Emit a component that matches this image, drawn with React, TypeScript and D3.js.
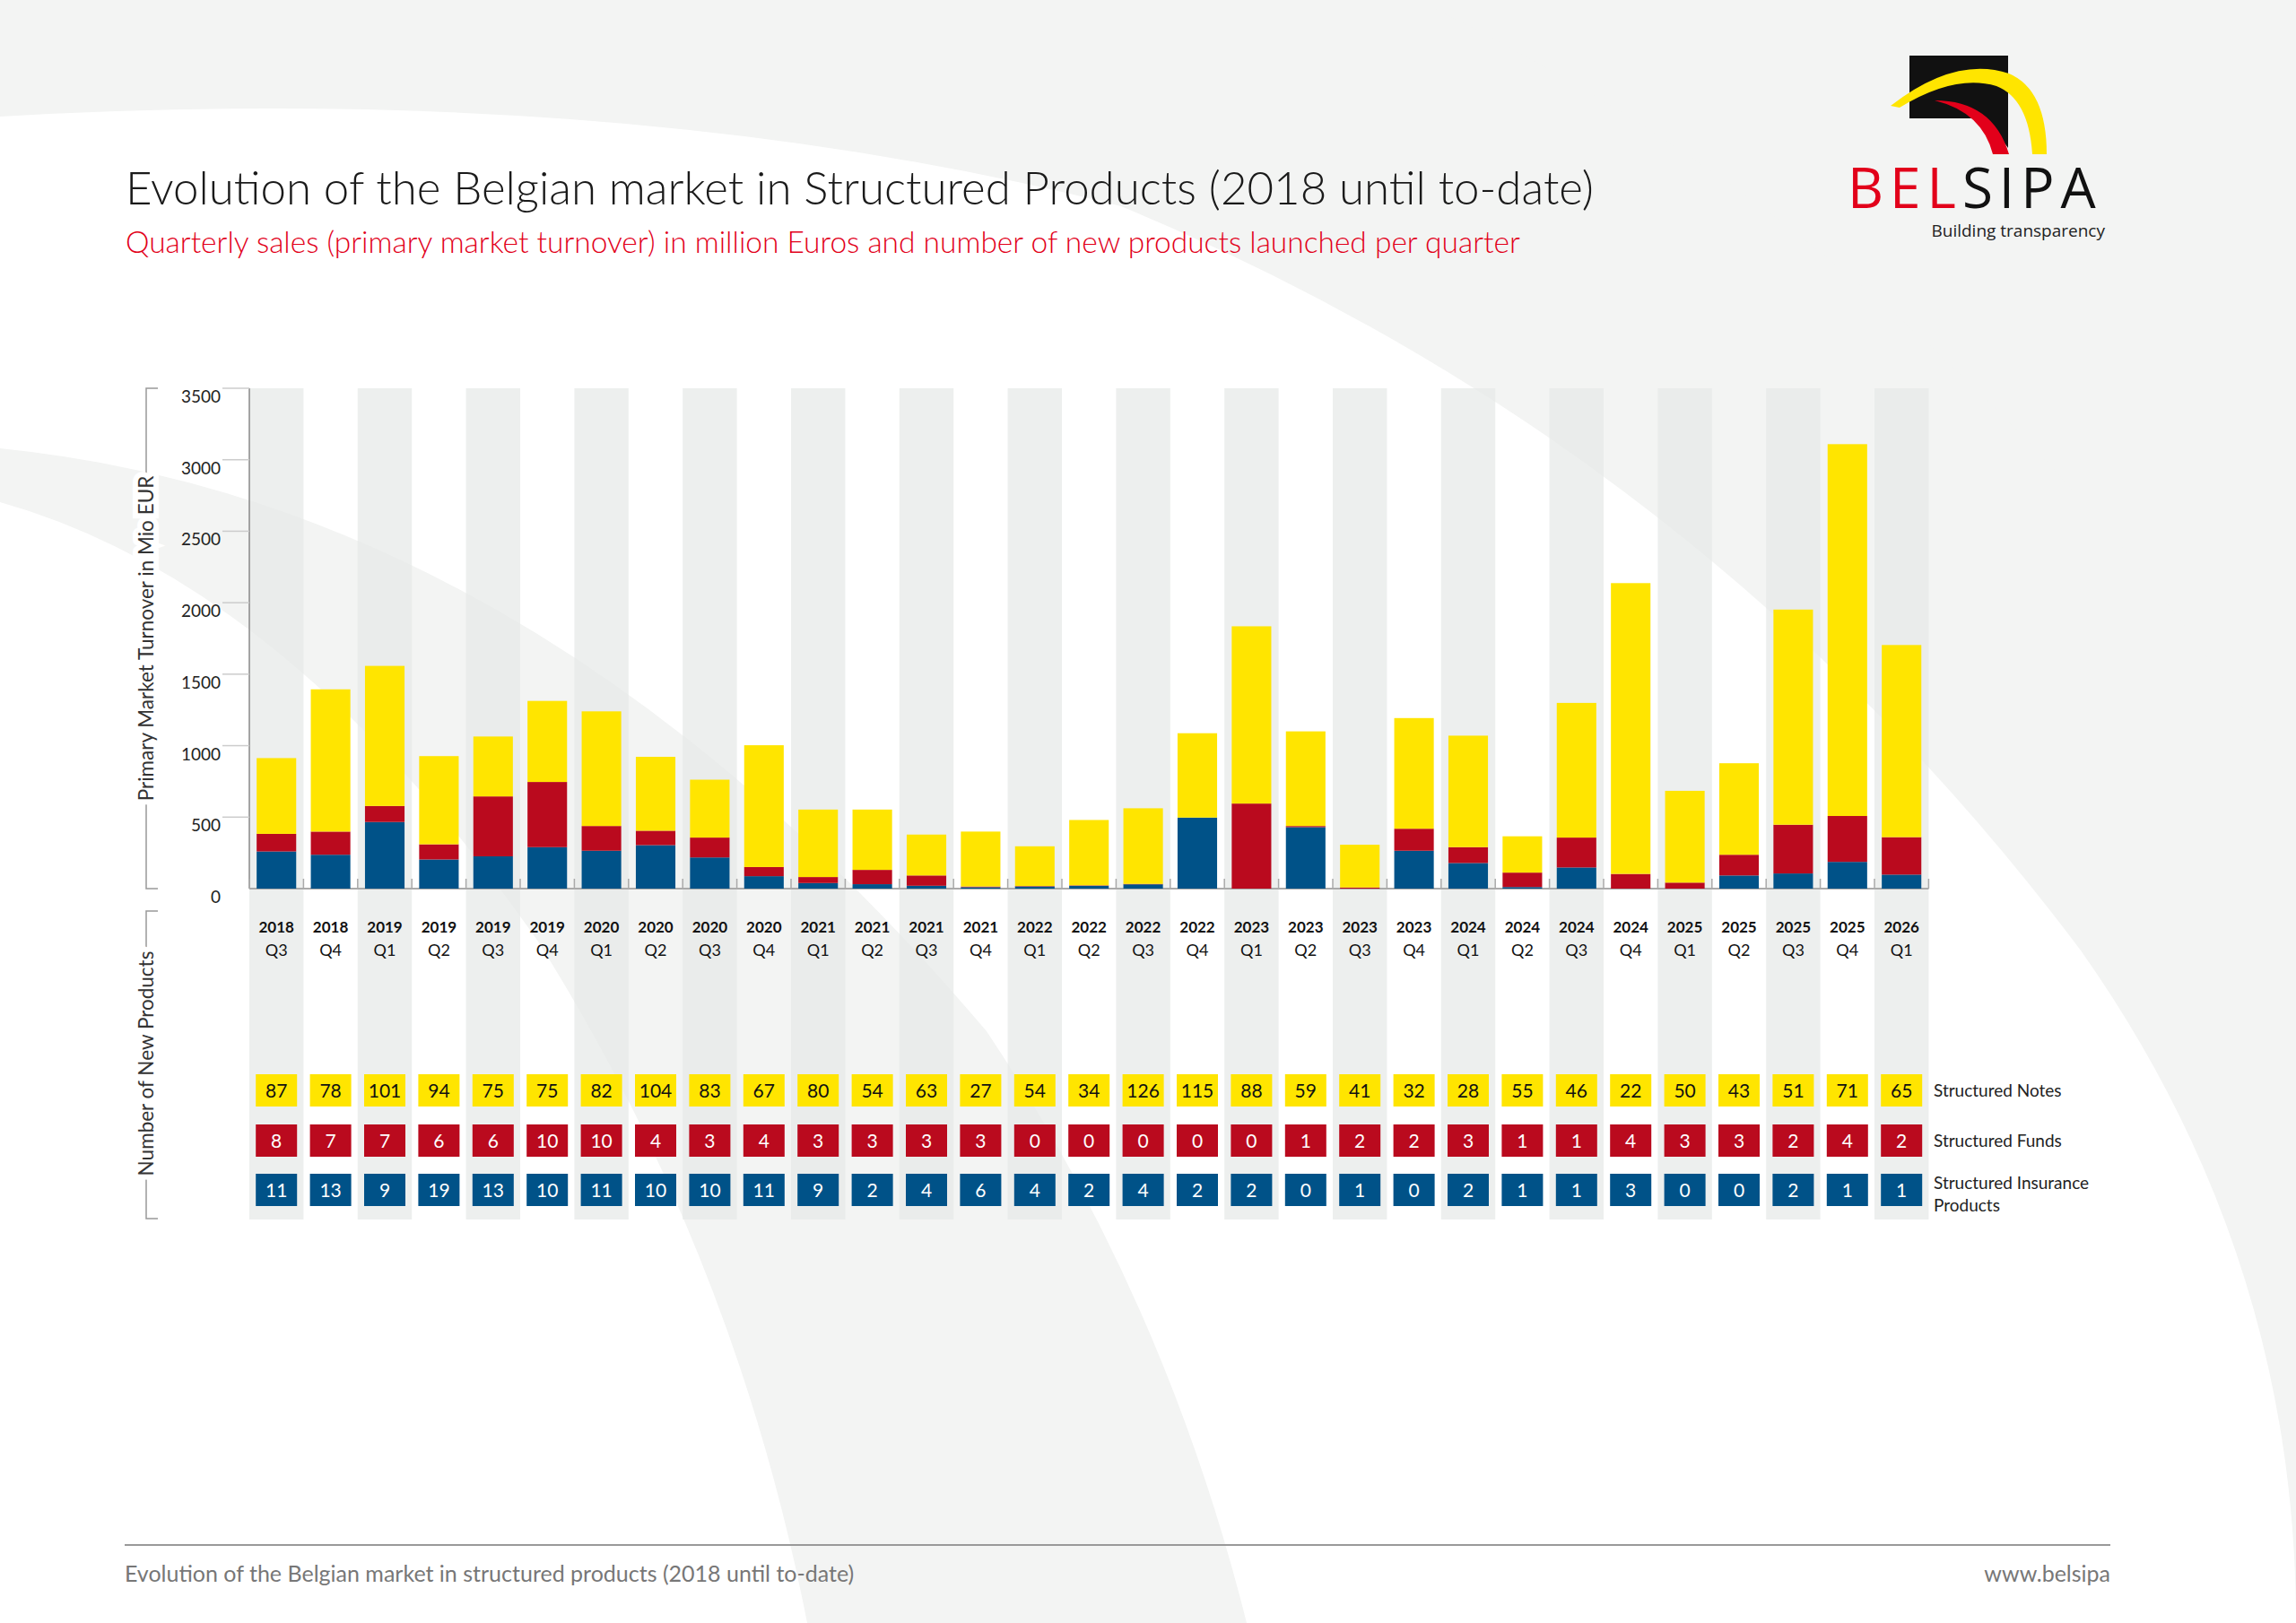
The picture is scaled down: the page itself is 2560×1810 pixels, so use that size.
import React from "react";
import * as d3 from "d3";

const years = ["2018","2018","2019","2019","2019","2019","2020","2020","2020","2020","2021","2021","2021","2021","2022","2022","2022","2022","2023","2023","2023","2023","2024","2024","2024","2024","2025","2025","2025","2025","2026"];
const quarters = ["Q3","Q4","Q1","Q2","Q3","Q4","Q1","Q2","Q3","Q4","Q1","Q2","Q3","Q4","Q1","Q2","Q3","Q4","Q1","Q2","Q3","Q4","Q1","Q2","Q3","Q4","Q1","Q2","Q3","Q4","Q1"];
const insuranceTurnover = [260,237,466,204,226,290,265,304,218,87,39,31,20,10,15,20,30,497,0,430,0,265,179,11,148,0,0,92,106,187,98];
const fundsTurnover = [123,162,112,106,419,456,173,101,139,64,42,100,72,5,3,3,3,0,595,8,8,154,111,101,209,103,42,145,341,321,262];
const notesTurnover = [530,995,980,617,419,567,802,517,405,852,472,422,286,384,278,457,529,590,1240,662,299,774,780,254,942,2034,642,640,1505,2601,1344];
const notesCount = [87,78,101,94,75,75,82,104,83,67,80,54,63,27,54,34,126,115,88,59,41,32,28,55,46,22,50,43,51,71,65];
const fundsCount = [8,7,7,6,6,10,10,4,3,4,3,3,3,3,0,0,0,0,0,1,2,2,3,1,1,4,3,3,2,4,2];
const insuranceCount = [11,13,9,19,13,10,11,10,10,11,9,2,4,6,4,2,4,2,2,0,1,0,2,1,1,3,0,0,2,1,1];
const yTicks = [0,500,1000,1500,2000,2500,3000,3500];

const YELLOW = "#FFE500", RED = "#BA0A1E", BLUE = "#005288";
const FONT = "Lato, 'Open Sans', sans-serif";

export default function App() {
  const W = 2560, H = 1810;
  const x0 = 278, catW = 60.4, n = years.length;
  const x = d3.scaleBand<number>().domain(d3.range(n)).range([x0, x0 + n * catW]).paddingInner(0).paddingOuter(0);
  const y = d3.scaleLinear().domain([0, 3500]).range([991, 433]);
  const barW = x.bandwidth() * 0.73;
  const stackData = d3.range(n).map(i => ({ i, ins: insuranceTurnover[i], fun: fundsTurnover[i], not: notesTurnover[i] }));
  const series = d3.stack<any>().keys(["ins", "fun", "not"])(stackData);
  const colors = [BLUE, RED, YELLOW];
  const rows = [
    { vals: notesCount, color: YELLOW, text: "#111", y: 1216, label: ["Structured Notes"] },
    { vals: fundsCount, color: RED, text: "#fff", y: 1272, label: ["Structured Funds"] },
    { vals: insuranceCount, color: BLUE, text: "#fff", y: 1327, label: ["Structured Insurance", "Products"] },
  ];
  return (
    <svg width={W} height={H} style={{ display: "block", position: "absolute", left: 0, top: 0 }} fontFamily={FONT}>
      <rect width={W} height={H} fill="#F3F4F3" />
      <path d="M0,130 Q700,90 1250,230 Q1900,500 2320,1060 Q2560,1400 2560,1810 L0,1810 Z" fill="#ffffff" />
      <path d="M1580,0 Q2200,300 2560,880 L2560,0 Z" fill="#F3F4F3" />
      <path d="M0,500 Q600,560 1100,1150 Q1300,1450 1390,1810 L900,1810 Q820,1400 600,1050 Q320,650 0,560 Z" fill="#F3F4F3" />
      {/* Title */}
      <text x={140} y={228} fontSize={51} fill="#1a1a1a" fontWeight={300}>Evolution of the Belgian market in Structured Products (2018 until to-date)</text>
      <text x={140} y={282} fontSize={33.5} fill="#E2001A" fontWeight={300}>Quarterly sales (primary market turnover) in million Euros and number of new products launched per quarter</text>
      {/* Logo */}
      <g>
        <rect x={2129} y={62} width={110} height={70} fill="#111" />
        <path d="M2129,132 L2239,132 L2239,165 Q2200,110 2129,110 Z" fill="#111" />
        <path d="M2108,118 Q2180,62 2240,82 Q2282,100 2282,172 L2266,172 Q2262,110 2226,96 Q2180,82 2118,120 Z" fill={YELLOW} />
        <path d="M2157,112 Q2222,112 2240,172 L2222,172 Q2210,125 2157,112 Z" fill="#E2001A" />
        <text x={2060} y={232} fontSize={62} fill="#E2001A" letterSpacing={7} fontFamily="'Open Sans', sans-serif">BEL<tspan fill="#111">SIPA</tspan></text>
        <text x={2347} y={264} fontSize={19} fill="#222" textAnchor="end" fontFamily="'Open Sans', sans-serif">Building transparency</text>
      </g>
      {/* bands */}
      {d3.range(n).map(i => i % 2 === 0 ? (
        <rect key={"b" + i} x={x(i)!} y={433} width={x.bandwidth()} height={1360 - 433} fill="#E6E8E7" opacity={0.7} />
      ) : null)}
      {/* axes */}
      <line x1={x0} x2={x0} y1={433} y2={991} stroke="#888" strokeWidth={1.5} />
      <line x1={x0} x2={x0 + n * catW} y1={991} y2={991} stroke="#aaa" strokeWidth={2} />
      {d3.range(n + 1).map(i => (
        <line key={"t" + i} x1={x0 + i * catW} x2={x0 + i * catW} y1={980} y2={991} stroke="#aaa" strokeWidth={1.5} />
      ))}
      {yTicks.map(t => (
        <g key={"y" + t}>
          {t > 0 && <line x1={248} x2={x0} y1={y(t)} y2={y(t)} stroke="#ccc" strokeWidth={1.5} />}
          <text x={246} y={y(t) + 16} fontSize={19} textAnchor="end" fill="#222">{t}</text>
        </g>
      ))}
      {/* bars */}
      {series.map((s, si) => s.map((d, i) => (
        <rect key={si + "-" + i} x={x(i)! + (x.bandwidth() - barW) / 2} width={barW}
          y={y(d[1])} height={Math.max(0, y(d[0]) - y(d[1]))} fill={colors[si]} />
      )))}
      {/* category labels */}
      {d3.range(n).map(i => (
        <g key={"c" + i}>
          <text x={x(i)! + x.bandwidth() / 2} y={1040} fontSize={17} fontWeight={700} textAnchor="middle" fill="#111">{years[i]}</text>
          <text x={x(i)! + x.bandwidth() / 2} y={1066} fontSize={18} textAnchor="middle" fill="#111">{quarters[i]}</text>
        </g>
      ))}
      {/* count table */}
      {rows.map((r, ri) => (
        <g key={"r" + ri}>
          {r.vals.map((v, i) => (
            <g key={i}>
              <rect x={x(i)! + x.bandwidth() / 2 - 23} y={r.y - 18} width={46} height={36} fill={r.color} />
              <text x={x(i)! + x.bandwidth() / 2} y={r.y + 8} fontSize={21} textAnchor="middle" fill={r.text}>{v}</text>
            </g>
          ))}
          {r.label.map((l, li) => (
            <text key={li} x={2156} y={r.y + 7 + (r.label.length > 1 ? -8 + li * 25 : 0)} fontSize={19} fill="#222">{l}</text>
          ))}
        </g>
      ))}
      {/* axis brackets */}
      <path d="M176,433 L163,433 L163,991 L176,991" fill="none" stroke="#999" strokeWidth={1.5} />
      <text transform="translate(171,712) rotate(-90)" fontSize={22.5} textAnchor="middle" fill="#333" stroke="#fff" strokeWidth={12} paintOrder="stroke">Primary Market Turnover in Mio EUR</text>
      <path d="M176,1016 L163,1016 L163,1359 L176,1359" fill="none" stroke="#999" strokeWidth={1.5} />
      <text transform="translate(171,1186) rotate(-90)" fontSize={22.5} textAnchor="middle" fill="#333" stroke="#fff" strokeWidth={12} paintOrder="stroke">Number of New Products</text>
      {/* footer */}
      <line x1={139} x2={2353} y1={1723} y2={1723} stroke="#999" strokeWidth={2} />
      <text x={139} y={1764} fontSize={25} fill="#777">Evolution of the Belgian market in structured products (2018 until to-date)</text>
      <text x={2353} y={1764} fontSize={25} fill="#777" textAnchor="end">www.belsipa</text>
    </svg>
  );
}
